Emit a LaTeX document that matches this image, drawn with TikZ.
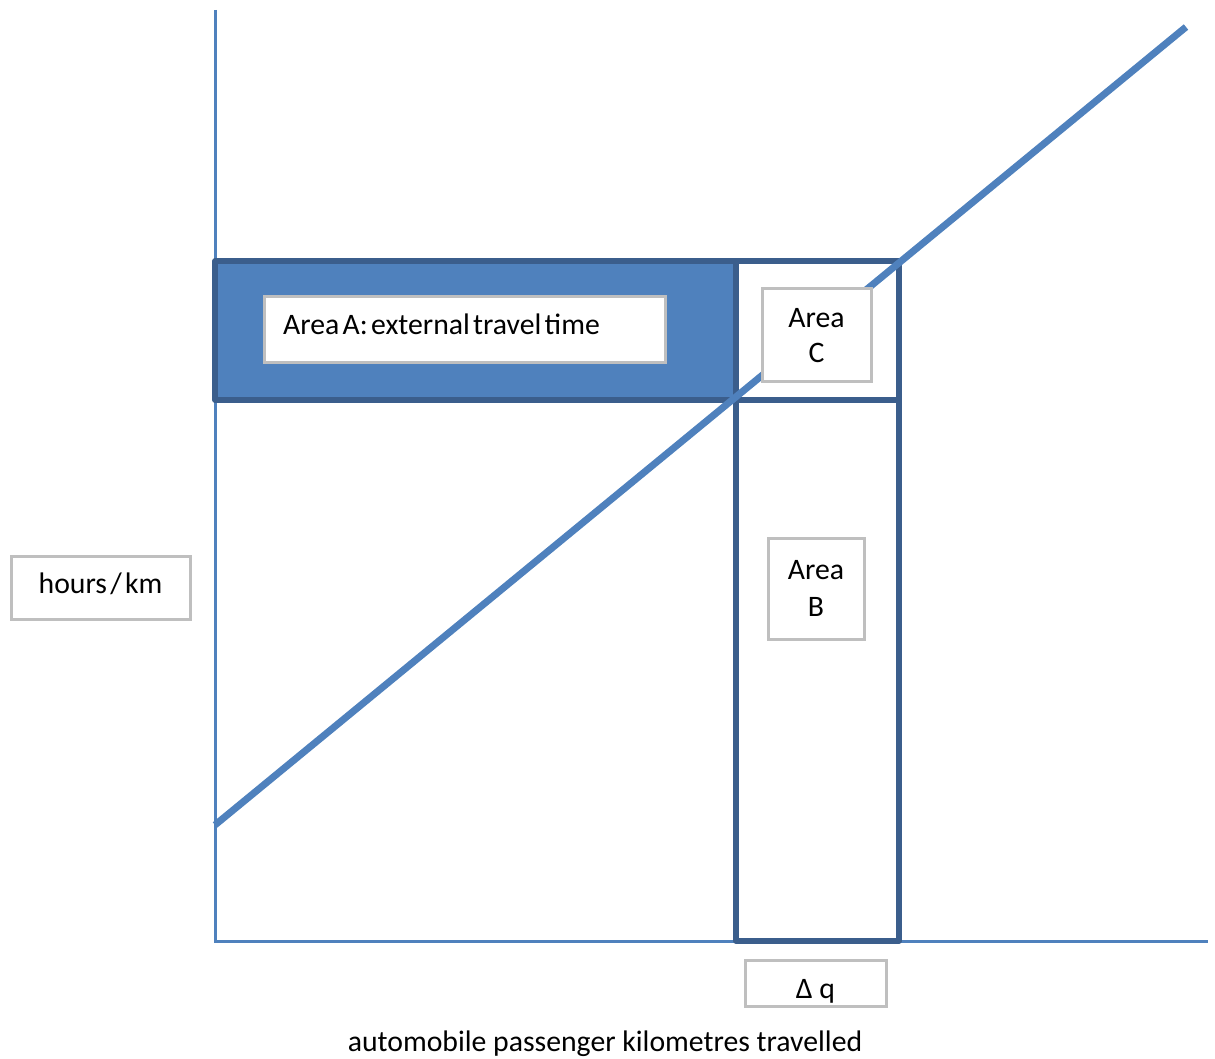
\documentclass[tikz,border=0pt]{standalone}
\usepackage{fontspec}
\setmainfont{Carlito}
\definecolor{axisblue}{RGB}{79,129,189}
\definecolor{darkblue}{RGB}{59,94,140}
\definecolor{boxgray}{RGB}{191,191,191}
\begin{document}
\begin{tikzpicture}[x=0.75pt,y=-0.75pt,
  every node/.style={font=\fontsize{22.3}{26}\selectfont},
  tight/.style={execute at begin node={\spaceskip=0.11em plus 0.02em\relax}},
  axis/.style={draw=axisblue,line width=2.25pt},
  curve/.style={draw=axisblue,line width=5.25pt},
  areabox/.style={draw=darkblue,line width=4pt,line join=round},
  labelbox/.style={draw=boxgray,fill=white,line width=2.25pt,align=center,inner sep=0pt}]
\useasboundingbox (0,0) rectangle (1215,1059);
% axes
\coordinate (O) at (215,941);
\coordinate (ytop) at (215,10);
\coordinate (xend) at (1208,941);
\draw[axis] (ytop) -- (O) -- (xend);
% areas
\coordinate (A1) at (215,261);
\coordinate (A2) at (736,400);
\coordinate (C1) at (736,261);
\coordinate (C2) at (899,400);
\coordinate (B1) at (736,400);
\coordinate (B2) at (899,941);
\draw[areabox,fill=axisblue] (A1) rectangle (A2);
\draw[areabox] (C1) rectangle (C2);
\draw[areabox] (B1) rectangle (B2);
% supply line
\coordinate (L1) at (215,825);
\coordinate (L2) at (1186,27);
\draw[curve] (L1) -- (L2);
% labels
\node[labelbox,tight,minimum width=300.75pt,minimum height=49.5pt,text width=272pt,align=left,inner xsep=14.25pt] (la) at (464.5,330) {\raisebox{8pt}{Area A: external travel time}};
\node[labelbox,minimum width=81.75pt,minimum height=69.75pt] (lc) at (816.5,335.5) {Area\\C};
\node[labelbox,minimum width=72pt,minimum height=75.75pt] (lb) at (816,588.5) {\raisebox{2pt}{Area}\\B};
\node[labelbox,tight,minimum width=134.25pt,minimum height=47.25pt] (ly) at (100.5,587.5) {\raisebox{7pt}{hours / km}};
\node[labelbox,minimum width=105.75pt,minimum height=34.5pt] (lq) at (815.5,983) {\raisebox{-11.5pt}[0pt][0pt]{Δ q}};
\node (lx) at (605,1044) {automobile passenger kilometres travelled};
\end{tikzpicture}
\end{document}
